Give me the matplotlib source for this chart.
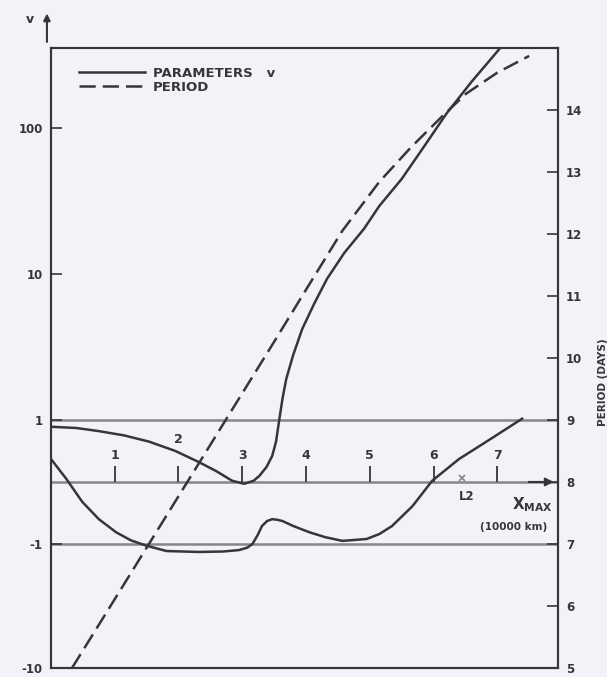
import numpy as np
from matplotlib import pyplot as plt
from matplotlib.lines import Line2D

# --- data ---
# period curve (right axis, days) vs x_max (10000 km)
period_x = [0.33, 1.0, 1.5, 2.0, 2.5, 3.0, 3.5, 4.0, 4.57, 5.15, 5.65, 6.14, 6.51, 7.0, 7.5]
period_days = [5.0, 6.11, 6.94, 7.77, 8.6, 9.43, 10.26, 11.1, 12.05, 12.84, 13.4, 13.9, 14.26, 14.6, 14.87]

# parameter v, branch that rises steeply past x = 3.5
upper_x = [0.0, 0.4, 0.75, 1.15, 1.54, 1.95, 2.32, 2.6, 2.84, 3.03, 3.18, 3.27, 3.38, 3.47, 3.53,
           3.58, 3.63, 3.69, 3.8, 3.94, 4.13, 4.33, 4.6, 4.91, 5.15, 5.5, 5.85, 6.2, 6.6, 7.1]
upper_v = [0.89, 0.87, 0.82, 0.75, 0.65, 0.5, 0.32, 0.17, 0.02, -0.03, 0.02, 0.1, 0.24, 0.42, 0.65,
           1.0, 1.39, 1.91, 2.8, 4.2, 6.3, 9.3, 14.0, 20.5, 29.4, 45.0, 75.0, 126.0, 210.0, 380.0]

# parameter v, lower branch
lower_x = [0.0, 0.24, 0.49, 0.75, 1.02, 1.25, 1.49, 1.81, 2.32, 2.7, 2.95, 3.08, 3.16, 3.24, 3.31,
           3.39, 3.47, 3.55, 3.63, 3.8, 4.05, 4.3, 4.57, 4.95, 5.15, 5.35, 5.67, 5.98, 6.4, 6.83, 7.39]
lower_v = [0.37, 0.05, -0.32, -0.6, -0.81, -0.94, -1.03, -1.14, -1.16, -1.15, -1.12, -1.07, -1.0, -0.86, -0.71,
           -0.63, -0.6, -0.61, -0.63, -0.71, -0.81, -0.89, -0.95, -0.92, -0.84, -0.71, -0.39, 0.02, 0.37, 0.65, 1.02]

x_ticks = [1, 2, 3, 4, 5, 6, 7]
x_tick_labels = ['1', '2', '3', '4', '5', '6', '7']
v_ticks = [-10, -1, 1, 10, 100]
v_tick_labels = ['-10', '-1', '1', '10', '100']
period_ticks = [5, 6, 7, 8, 9, 10, 11, 12, 13, 14]
l2_x = 6.45


# left axis: linear between -1 and 1, log outside (placed so 0/±1 line up with 8/9/7 days)
def fwd(v):
    v = np.asarray(v, dtype=float)
    a = np.maximum(np.abs(v), 1.0)
    return np.where(np.abs(v) <= 1, 8 + v,
                    np.where(v > 0, 9 + 2.35 * np.log10(a), 7 - 2.0 * np.log10(a)))


def inv(u):
    u = np.asarray(u, dtype=float)
    return np.where((u >= 7) & (u <= 9), u - 8,
                    np.where(u > 9, 10 ** ((u - 9) / 2.35), -10 ** ((7 - u) / 2.0)))


bg = '#f3f2f9'
ink = '#36363a'
grey = '#86868c'
plt.rcParams['font.family'] = ['DejaVu Sans']

fig = plt.figure(figsize=(6.07, 6.77), dpi=100, facecolor=bg)
ax = fig.add_axes([0.084, 0.0133, 0.835, 0.916])
ax.set_facecolor(bg)
ax.set_yscale('function', functions=(fwd, inv))
ax.set_xlim(0, 7.95)
ax.set_ylim(-10, float(inv(15.0)))

ax2 = ax.twinx()
ax2.set_ylim(5, 15)

# reference lines
ax.axhline(1, color=grey, lw=1.8, zorder=1)
ax.axhline(-1, color=grey, lw=1.8, zorder=1)
ax.axhline(0, color=grey, lw=1.8, zorder=1)
ax.annotate('', xy=(7.93, 0), xytext=(7.45, 0),
            arrowprops=dict(arrowstyle='-|>', color=ink, lw=1.5, mutation_scale=12), zorder=2)

# x ticks drawn on the v = 0 axis
ax.vlines(x_ticks, 0, 0.25, color=ink, lw=1.3, zorder=2)
for xt, lab in zip(x_ticks, x_tick_labels):
    yl = 0.69 if lab == '2' else 0.42
    ax.text(xt, yl, lab, ha='center', va='center', fontsize=9, fontweight='bold', color=ink)

ax.plot([l2_x], [0.06], marker='x', ms=5, color=grey, mew=1.2, zorder=3)
ax.text(l2_x + 0.07, -0.24, 'L2', ha='center', va='center', fontsize=8.5, fontweight='bold', color=ink)
ax.text(7.55, -0.37, r'$\mathbf{X_{MAX}}$', ha='center', va='center', fontsize=11, color=ink)
ax.text(7.25, -0.73, '(10000 km)', ha='center', va='center', fontsize=7.5, fontweight='bold', color=ink)

# curves
l_solid, = ax.plot(upper_x, upper_v, color=ink, lw=1.8, zorder=4)
ax.plot(lower_x, lower_v, color=ink, lw=1.8, zorder=4)
l_dash, = ax2.plot(period_x, period_days, color=ink, lw=1.8, dashes=(6.5, 2.8), zorder=4)

# axes styling
for a in (ax, ax2):
    for s in a.spines.values():
        s.set_color(ink)
        s.set_linewidth(1.5)
ax.set_xticks([])
ax.set_yticks(v_ticks)
ax.set_yticklabels(v_tick_labels)
ax.yaxis.set_minor_locator(plt.NullLocator())
ax.tick_params(axis='y', direction='in', length=8, width=1.2, color=ink, pad=6,
               labelsize=8.5, labelcolor=ink)
for t in ax.get_yticklabels():
    t.set_fontweight('bold')
ax2.set_yticks(period_ticks)
ax2.tick_params(axis='y', direction='in', length=8, width=1.2, color=ink, pad=6,
                labelsize=8.5, labelcolor=ink)
for t in ax2.get_yticklabels():
    t.set_fontweight('bold')

fig.text(0.993, 0.435, 'PERIOD (DAYS)', rotation=90, ha='center', va='center',
         fontsize=7.5, fontweight='bold', color=ink)

# v axis arrow and label
ax.annotate('', xy=(-0.008, 1.06), xytext=(-0.008, 1.005), xycoords='axes fraction',
            arrowprops=dict(arrowstyle='-|>', color=ink, lw=1.5, mutation_scale=10))
ax.text(-0.041, 1.045, 'v', transform=ax.transAxes, ha='center', va='center',
        fontsize=9, fontweight='bold', color=ink)

leg = ax.legend([l_solid, Line2D([], [], color=ink, lw=1.8, dashes=(6.5, 2.8))],
                ['PARAMETERS   v', 'PERIOD'],
                loc='upper left', bbox_to_anchor=(0.045, 0.978), frameon=False,
                handlelength=5.0, handletextpad=0.6, labelspacing=0.1, borderaxespad=0,
                prop={'size': 9.5, 'weight': 'bold'})
for t in leg.get_texts():
    t.set_color(ink)

fig.savefig('out.png', dpi=100, facecolor=bg)
